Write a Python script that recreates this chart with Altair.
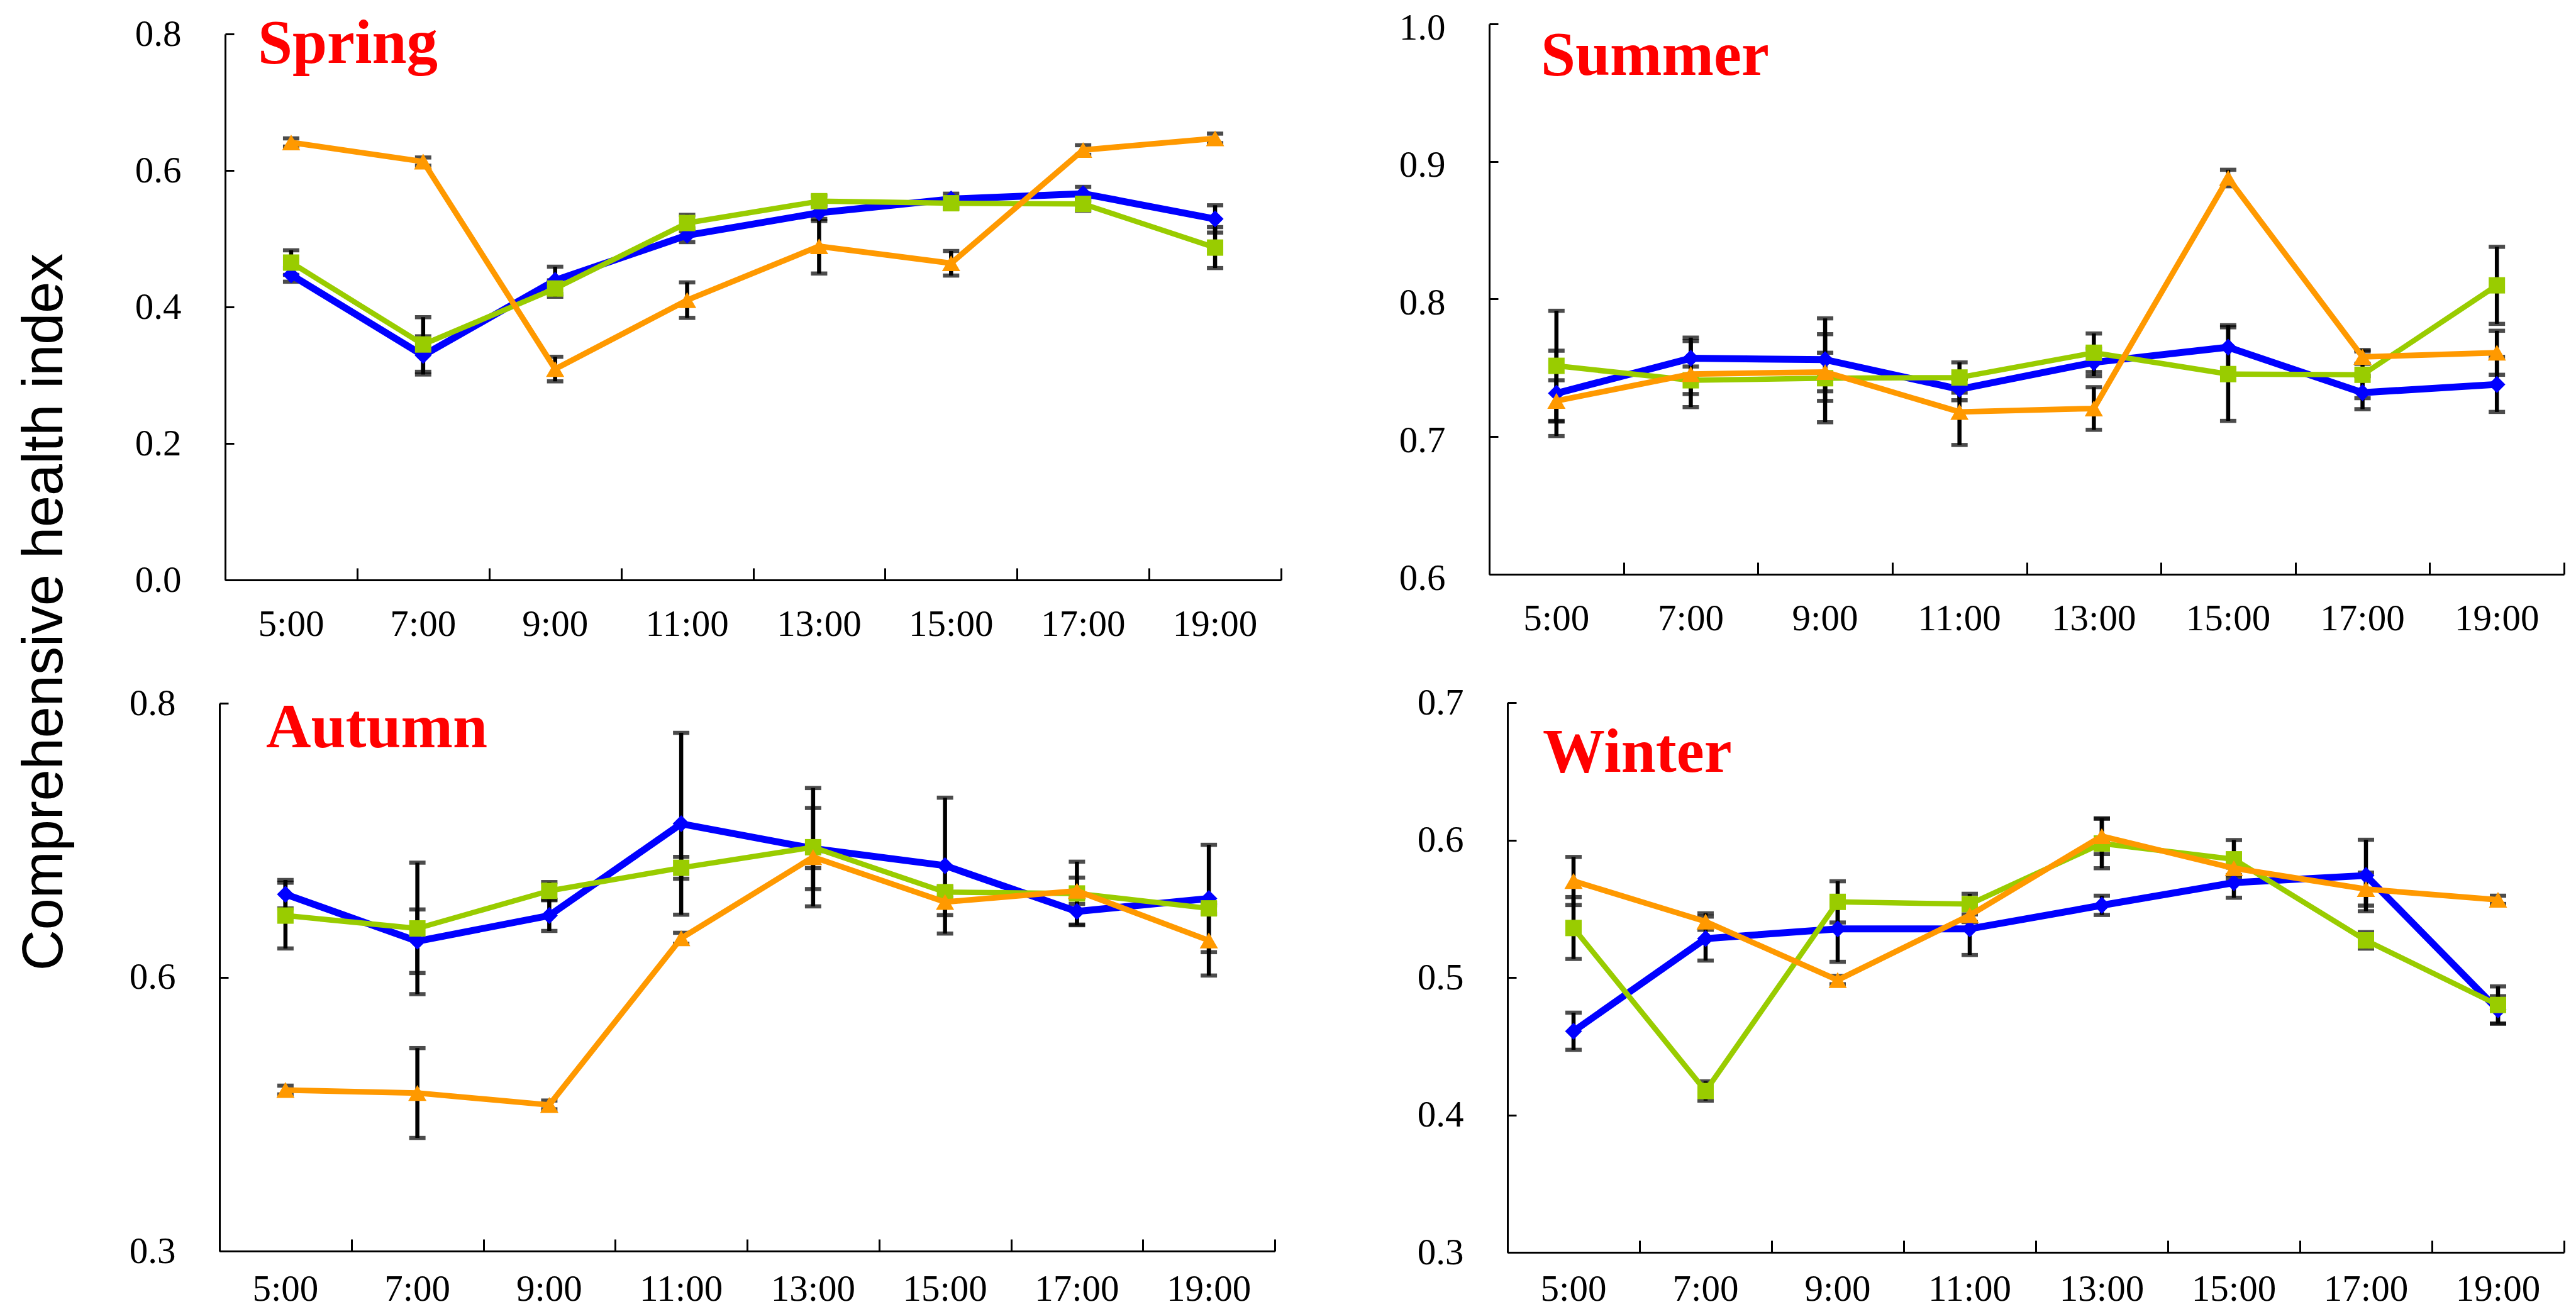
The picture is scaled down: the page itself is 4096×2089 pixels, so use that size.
import altair as alt
import pandas as pd

# ---------------- data ----------------
times = ["5:00", "7:00", "9:00", "11:00", "13:00", "15:00", "17:00", "19:00"]
series_names = ["Series 1", "Series 2", "Series 3"]
series_colors = ["#0000FF", "#99CC00", "#FF9900"]
series_shapes = ["diamond", "square", "triangle-up"]
y_title = "Comprehensive health index"
seasons = ["Spring", "Summer", "Autumn", "Winter"]

spring_s1 = [0.447, 0.329, 0.439, 0.505, 0.538, 0.558, 0.566, 0.529]
spring_s1_err = [0.010, 0.028, 0.020, 0.010, 0.012, 0.008, 0.010, 0.020]
spring_s2 = [0.465, 0.345, 0.427, 0.523, 0.555, 0.552, 0.551, 0.487]
spring_s2_err = [0.018, 0.040, 0.012, 0.012, 0.008, 0.008, 0.010, 0.030]
spring_s3 = [0.641, 0.613, 0.309, 0.410, 0.489, 0.464, 0.630, 0.647]
spring_s3_err = [0.006, 0.006, 0.018, 0.026, 0.040, 0.018, 0.007, 0.007]

summer_s1 = [0.7315, 0.757, 0.756, 0.7345, 0.754, 0.765, 0.732, 0.738]
summer_s1_err = [0.031, 0.015, 0.030, 0.008, 0.010, 0.016, 0.012, 0.020]
summer_s2 = [0.7515, 0.741, 0.7425, 0.743, 0.761, 0.7455, 0.745, 0.810]
summer_s2_err = [0.040, 0.010, 0.032, 0.011, 0.014, 0.034, 0.017, 0.028]
summer_s3 = [0.726, 0.7455, 0.747, 0.718, 0.7205, 0.888, 0.758, 0.761]
summer_s3_err = [0.015, 0.024, 0.014, 0.024, 0.0155, 0.006, 0.005, 0.016]

autumn_s1 = [0.6257, 0.5828, 0.6062, 0.690, 0.6674, 0.6518, 0.610, 0.6218]
autumn_s1_err = [0.013, 0.029, 0.014, 0.083, 0.037, 0.062, 0.012, 0.049]
autumn_s2 = [0.6062, 0.5945, 0.6288, 0.6498, 0.6686, 0.6276, 0.6264, 0.6128]
autumn_s2_err = [0.030, 0.060, 0.008, 0.010, 0.054, 0.005, 0.029, 0.005]
autumn_s3 = [0.447, 0.4443, 0.4334, 0.5855, 0.6596, 0.6186, 0.6288, 0.5835]
autumn_s3_err = [0.004, 0.041, 0.004, 0.005, 0.010, 0.012, 0.012, 0.032]

winter_s1 = [0.4609, 0.5283, 0.5354, 0.5354, 0.5525, 0.569, 0.5742, 0.4764]
winter_s1_err = [0.0135, 0.016, 0.024, 0.019, 0.007, 0.011, 0.026, 0.010]
winter_s2 = [0.536, 0.4174, 0.555, 0.5534, 0.5975, 0.586, 0.527, 0.480]
winter_s2_err = [0.0225, 0.007, 0.015, 0.0075, 0.018, 0.014, 0.006, 0.0135]
winter_s3 = [0.5702, 0.5407, 0.4981, 0.5453, 0.6028, 0.5795, 0.5643, 0.5565]
winter_s3_err = [0.0175, 0.006, 0.003, 0.005, 0.013, 0.005, 0.012, 0.003]

spring_domain, spring_ticks = [0.0, 0.8], [0.0, 0.2, 0.4, 0.6, 0.8]
summer_domain, summer_ticks = [0.6, 1.0], [0.6, 0.7, 0.8, 0.9, 1.0]
autumn_domain, autumn_ticks = [0.3, 0.8], [0.3, 0.55, 0.8]
winter_domain, winter_ticks = [0.3, 0.7], [0.3, 0.4, 0.5, 0.6, 0.7]

# ---------------- layout (pixels) ----------------
W, H = 4080, 2073
series_sizes = [729, 676, 841]
series_widths = [11, 8.5, 9]


def make_panel(season, vals, errs, domain, ticks, geo, title_pos, xpad, yoff=0):
    x0, x1, y0, y1 = geo
    rows = []
    for name, v, e in zip(series_names, vals, errs):
        for t, vv, ee in zip(times, v, e):
            rows.append({"time": t, "series": name, "value": vv,
                         "lo": vv - ee, "hi": vv + ee})
    df = pd.DataFrame(rows)
    xs = alt.Scale(type="band", domain=times, range=[x0, x1],
                   paddingInner=0, paddingOuter=0)
    ys = alt.Scale(domain=domain, range=[y1, y0], nice=False, zero=False)
    base = alt.Chart(df)

    x_labels = alt.Axis(orient="bottom", offset=y1 - H, domain=False, ticks=False,
                        labelAngle=0, labelPadding=xpad, title=None)
    y_labels = alt.Axis(orient="left", offset=-x0, domain=False, ticks=False,
                        values=ticks, format=".1f", labelPadding=70,
                        labelOffset=yoff, title=None)
    x_frame = alt.Axis(orient="top", offset=-y1, labels=False, ticks=True,
                       tickBand="extent", tickSize=19, title=None)
    y_frame = alt.Axis(orient="right", offset=x0 - W, labels=False, ticks=True,
                       tickSize=14, values=ticks, title=None)

    err = base.mark_rule(color="black", strokeWidth=6.5).encode(
        x=alt.X("time:N", scale=xs, axis=x_labels),
        y=alt.Y("lo:Q", scale=ys, axis=y_labels),
        y2="hi:Q",
    )
    caps = base.transform_fold(["lo", "hi"], as_=["end", "v"]).mark_tick(
        color="black", thickness=6.5, size=26
    ).encode(
        x=alt.X("time:N", scale=xs, axis=x_frame),
        y=alt.Y("v:Q", scale=ys, axis=y_frame),
    )
    layers = [err, caps]
    for name, col, shp, sz, sw in zip(series_names, series_colors, series_shapes,
                                      series_sizes, series_widths):
        sub = base.transform_filter(alt.datum.series == name)
        layers.append(sub.mark_line(color=col, strokeWidth=sw, strokeJoin="round").encode(
            x=alt.X("time:N", scale=xs, axis=None),
            y=alt.Y("value:Q", scale=ys, axis=None),
        ))
        layers.append(sub.mark_point(filled=True, opacity=1, color=col, shape=shp,
                                     size=sz).encode(
            x=alt.X("time:N", scale=xs, axis=None),
            y=alt.Y("value:Q", scale=ys, axis=None),
        ))
    tx, ty = title_pos
    title = alt.Chart(pd.DataFrame({"label": [season]})).mark_text(
        font="Liberation Serif", fontWeight="bold", fontSize=99, color="#FF0000",
        align="left", baseline="alphabetic"
    ).encode(x=alt.value(tx), y=alt.value(ty), text="label:N")
    layers.append(title)
    return alt.layer(*layers).resolve_axis(x="independent", y="independent")


spring = make_panel(seasons[0], [spring_s1, spring_s2, spring_s3],
                    [spring_s1_err, spring_s2_err, spring_s3_err],
                    spring_domain, spring_ticks, (350, 2029, 46, 914), (402, 92), 41)
summer = make_panel(seasons[1], [summer_s1, summer_s2, summer_s3],
                    [summer_s1_err, summer_s2_err, summer_s3_err],
                    summer_domain, summer_ticks, (2360, 4069, 30, 905), (2442, 111), 41,
                    yoff=6)
autumn = make_panel(seasons[2], [autumn_s1, autumn_s2, autumn_s3],
                    [autumn_s1_err, autumn_s2_err, autumn_s3_err],
                    autumn_domain, autumn_ticks, (341, 2019, 1110, 1981), (415, 1180), 31)
winter = make_panel(seasons[3], [winter_s1, winter_s2, winter_s3],
                    [winter_s1_err, winter_s2_err, winter_s3_err],
                    winter_domain, winter_ticks, (2389, 4069, 1109, 1983), (2445, 1219), 29)

ytitle = alt.Chart(pd.DataFrame({"label": [y_title]})).mark_text(
    font="Liberation Sans", fontSize=90, angle=270, align="center",
    baseline="alphabetic", color="black"
).encode(x=alt.value(91), y=alt.value(965), text="label:N")

chart = alt.layer(spring, summer, autumn, winter, ytitle).resolve_scale(
    x="independent", y="independent"
).properties(
    width=W, height=H, padding=0, autosize=alt.AutoSizeParams(type="none")
).configure_view(stroke=None).configure_axis(
    grid=False, labelFont="Liberation Serif", labelFontSize=59, labelColor="black",
    domainColor="black", tickColor="black", domainWidth=3, tickWidth=3
)

chart.save("out.html", embed_options={"renderer": "svg", "actions": False})
